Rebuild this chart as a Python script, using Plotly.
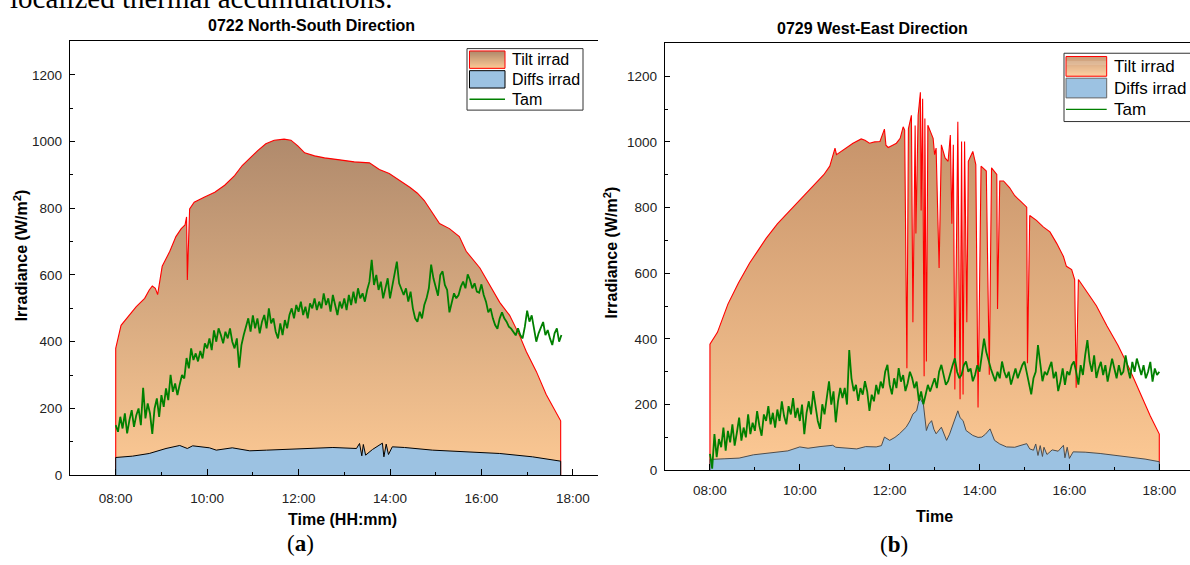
import plotly.graph_objects as go
import pandas as pd

W, H = 1190, 565
DAY = "2000-01-01 "


def px(x):
    return x / W


def py(y):
    return 1 - y / H


# ---------------- Panel (a): 0722 North-South ----------------
a_tilt_t = ["08:00", "08:00", "08:07", "08:18", "08:27", "08:38", "08:44", "08:48", "08:52", "08:55",
            "08:58", "09:01", "09:11", "09:19", "09:26", "09:31", "09:33", "09:34", "09:37", "09:43",
            "09:56", "10:10", "10:23", "10:36", "10:46", "10:56", "11:06", "11:17", "11:28", "11:41",
            "11:50", "11:59", "12:08", "12:21", "12:34", "12:54", "13:13", "13:33", "13:46", "13:59",
            "14:13", "14:26", "14:36", "14:45", "15:05", "15:18", "15:31", "15:40", "15:58", "16:08",
            "16:24", "16:37", "16:50", "16:59", "17:12", "17:25", "17:38", "17:44", "17:44"]
a_tilt_v = [0, 380, 449, 479, 505, 530, 555, 567, 560, 541,
            590, 626, 671, 715, 739, 750, 774, 585, 798, 818,
            833, 848, 869, 898, 928, 951, 972, 993, 1004, 1007,
            1004, 987, 966, 957, 951, 945, 939, 936, 916, 904,
            883, 863, 845, 823, 754, 739, 715, 671, 621, 582,
            518, 479, 419, 370, 311, 242, 188, 163, 0]

a_diff_t = ["08:00", "08:00", "08:22", "08:44", "09:06", "09:24", "09:34", "09:41", "10:03", "10:12",
            "10:33", "10:56", "11:18", "12:01", "12:45", "13:16", "13:20", "13:23", "13:25", "13:28",
            "13:37", "13:50", "13:52", "13:55", "13:58", "14:03", "14:19", "14:56", "15:40", "16:24",
            "17:07", "17:38", "17:44", "17:44"]
a_diff_v = [0, 53, 57, 65, 80, 89, 80, 88, 82, 75,
            82, 73, 75, 78, 83, 80, 95, 58, 92, 60,
            77, 96, 55, 93, 62, 85, 83, 75, 70, 65,
            55, 45, 42, 0]

# Tam, every 3 minutes from 08:00 to 17:45
a_tam_v = [150, 130, 175, 140, 185, 125, 165, 195, 145, 180,
           200, 150, 262, 170, 215, 185, 124, 200, 230, 175,
           240, 205, 260, 225, 301, 250, 275, 240, 272, 300,
           290, 351, 320, 380, 345, 365, 341, 372, 350, 395,
           380, 410, 375, 434, 400, 440, 420, 395, 430, 410,
           440, 400, 380, 410, 322, 390, 420, 445, 470, 430,
           479, 440, 470, 425, 460, 480, 440, 500, 455, 470,
           430, 410, 455, 420, 465, 440, 480, 500, 470, 510,
           490, 520, 480, 505, 470, 515, 500, 530, 495, 520,
           500, 545, 510, 530, 490, 540, 505, 480, 520, 500,
           530, 495, 540, 510, 550, 515, 560, 530, 545, 520,
           555, 580, 645, 570, 600, 555, 580, 530, 560, 590,
           530, 570, 600, 640, 575, 560, 540, 560, 520, 550,
           500, 470, 460, 490, 470, 510, 530, 560, 631, 590,
           560, 538, 600, 611, 570, 555, 488, 520, 545, 530,
           540, 565, 580, 560, 602, 585, 560, 575, 550, 547,
           572, 540, 520, 488, 500, 470, 450, 439, 470, 488,
           470, 460, 445, 439, 430, 419, 440, 420, 410, 445,
           493, 460, 479, 440, 400, 425, 440, 459, 420, 435,
           410, 390, 425, 440, 400, 420]

# ---------------- Panel (b): 0729 West-East ----------------
b_tilt_t = ["08:00", "08:00", "08:10", "08:24", "08:38", "08:53", "09:05", "09:15", "09:30", "09:47",
            "09:55", "10:09", "10:15", "10:22", "10:32", "10:40", "10:47", "10:49", "10:55", "11:02",
            "11:11", "11:22", "11:27", "11:33", "11:40", "11:47", "11:53", "11:55", "11:58", "12:04",
            "12:09", "12:14", "12:18", "12:20", "12:23", "12:25", "12:29", "12:31", "12:34", "12:35",
            "12:38", "12:41", "12:42", "12:44", "12:46", "12:47", "12:49", "12:51", "12:53", "12:58",
            "13:00", "13:02", "13:06", "13:09", "13:14", "13:18", "13:21", "13:23", "13:25", "13:27",
            "13:31", "13:34", "13:36", "13:38", "13:40", "13:43", "13:45", "13:49", "13:51", "13:55",
            "13:58", "14:02", "14:09", "14:13", "14:16", "14:23", "14:24", "14:27", "14:32", "14:40",
            "14:47", "14:54", "15:03", "15:04", "15:07", "15:16", "15:25", "15:34", "15:43", "15:52",
            "15:56", "16:03", "16:07", "16:09", "16:12", "16:18", "16:27", "16:36", "16:50", "17:05",
            "17:20", "17:35", "17:48", "18:00", "18:00"]
b_tilt_v = [0, 384, 420, 506, 570, 631, 672, 706, 750, 791,
            812, 846, 858, 876, 900, 926, 981, 961, 970, 981,
            996, 1009, 1005, 996, 1000, 1001, 1039, 990, 983, 990,
            996, 1011, 1046, 1036, 311, 1040, 1081, 451, 1050, 721,
            1081, 1151, 791, 1131, 286, 1071, 331, 1051, 1041, 1011,
            961, 981, 616, 991, 951, 941, 1021, 751, 991, 246,
            1061, 216, 1001, 231, 1001, 451, 941, 961, 971, 931,
            191, 926, 911, 291, 921, 901, 491, 881, 881, 861,
            836, 821, 801, 326, 776, 761, 741, 726, 691, 651,
            621, 611, 581, 251, 581, 561, 531, 501, 440, 380,
            310, 230, 165, 110, 0]

b_diff_t = ["08:00", "08:00", "08:20", "08:39", "08:58", "09:20", "09:44", "10:00", "10:11", "10:27",
            "10:44", "10:48", "11:07", "11:16", "11:28", "11:42", "11:49", "11:53", "12:00", "12:07",
            "12:13", "12:22", "12:27", "12:31", "12:36", "12:40", "12:45", "12:49", "12:52", "12:56",
            "12:59", "13:02", "13:09", "13:16", "13:20", "13:25", "13:31", "13:34", "13:38", "13:42",
            "13:51", "13:58", "14:03", "14:08", "14:14", "14:20", "14:27", "14:36", "14:47", "14:54",
            "15:03", "15:07", "15:12", "15:15", "15:18", "15:21", "15:24", "15:26", "15:30", "15:37",
            "15:45", "15:52", "15:54", "15:57", "16:00", "16:05", "16:21", "16:41", "17:01", "17:24",
            "17:41", "18:00", "18:00"]
b_diff_v = [0, 33, 35, 37, 47, 52, 59, 71, 67, 72,
            76, 70, 66, 65, 72, 71, 75, 101, 91, 100,
            111, 131, 150, 171, 181, 221, 201, 121, 140, 151,
            125, 111, 131, 91, 110, 141, 181, 160, 151, 121,
            106, 100, 101, 110, 126, 91, 80, 71, 70, 75,
            81, 65, 61, 80, 45, 75, 42, 70, 48, 62,
            58, 76, 38, 70, 36, 56, 55, 51, 46, 39,
            34, 26, 0]

# Tam, every 3 minutes from 08:00 to 18:00
b_tam_v = [50, 5, 110, 40, 95, 70, 130, 60, 120, 85,
           140, 75, 115, 160, 90, 130, 100, 170, 110, 145,
           120, 180, 135, 105, 170, 150, 195, 140, 175, 130,
           185, 150, 210, 165, 140, 195, 170, 220, 160, 190,
           150, 200, 110, 175, 210, 170, 241, 190, 150, 126,
           201, 170, 230, 271, 200, 240, 146, 210, 251, 220,
           251, 200, 366, 280, 241, 260, 211, 250, 230, 271,
           240, 181, 230, 210, 260, 231, 270, 250, 300, 321,
           260, 231, 280, 250, 311, 270, 290, 241, 265, 300,
           281, 250, 270, 211, 240, 201, 230, 260, 240, 261,
           280, 250, 300, 321, 290, 260, 271, 300, 320, 341,
           300, 280, 291, 320, 331, 300, 310, 271, 290, 320,
           300, 350, 401, 360, 331, 310, 290, 271, 300, 280,
           331, 300, 281, 300, 261, 290, 310, 280, 300, 320,
           331, 300, 260, 231, 280, 300, 381, 320, 271, 300,
           290, 311, 330, 280, 300, 241, 270, 310, 260, 301,
           290, 320, 331, 300, 261, 320, 290, 350, 396, 331,
           300, 350, 281, 310, 330, 290, 320, 270, 300, 340,
           310, 280, 320, 290, 300, 350, 310, 280, 330, 300,
           340, 310, 290, 320, 280, 300, 330, 270, 310, 290,
           300]

a_tam_t = pd.date_range(DAY + "08:00", DAY + "17:45", freq="3min")
b_tam_t = pd.date_range(DAY + "08:00", DAY + "18:00", freq="3min")

y_ticks = [0, 200, 400, 600, 800, 1000, 1200]
x_tick_labels = ["08:00", "10:00", "12:00", "14:00", "16:00", "18:00"]


def ts(lst):
    return [DAY + t for t in lst]


# ---------------- styles ----------------
RED = "#ff0000"
GREEN = "#008000"
BLUE_FILL = "#9cc2e2"
A_TOP, A_BOT = "#b08a6c", "#fdc994"
B_TOP, B_BOT = "#c08d66", "#fdc994"
SANS = "Liberation Sans, Arial, sans-serif"
SERIF = "Liberation Serif, Times New Roman, serif"

fig = go.Figure()

# panel a
fig.add_trace(go.Scatter(x=ts(a_tilt_t), y=a_tilt_v, mode="lines", fill="tozeroy",
                         line=dict(color=RED, width=1.1),
                         fillgradient=dict(type="vertical", colorscale=[[0, A_BOT], [1, A_TOP]]),
                         xaxis="x", yaxis="y", showlegend=False, hoverinfo="skip"))
fig.add_trace(go.Scatter(x=ts(a_diff_t), y=a_diff_v, mode="lines", fill="tozeroy",
                         fillcolor=BLUE_FILL, line=dict(color="black", width=1),
                         xaxis="x", yaxis="y", showlegend=False, hoverinfo="skip"))
fig.add_trace(go.Scatter(x=a_tam_t, y=a_tam_v, mode="lines",
                         line=dict(color=GREEN, width=1.8),
                         xaxis="x", yaxis="y", showlegend=False, hoverinfo="skip"))

# panel b
fig.add_trace(go.Scatter(x=ts(b_tilt_t), y=b_tilt_v, mode="lines", fill="tozeroy",
                         line=dict(color=RED, width=1.1),
                         fillgradient=dict(type="vertical", colorscale=[[0, B_BOT], [1, B_TOP]]),
                         xaxis="x2", yaxis="y2", showlegend=False, hoverinfo="skip"))
fig.add_trace(go.Scatter(x=ts(b_diff_t), y=b_diff_v, mode="lines", fill="tozeroy",
                         fillcolor=BLUE_FILL, line=dict(color="#4d4d4d", width=1),
                         xaxis="x2", yaxis="y2", showlegend=False, hoverinfo="skip"))
fig.add_trace(go.Scatter(x=b_tam_t, y=b_tam_v, mode="lines",
                         line=dict(color=GREEN, width=1.8),
                         xaxis="x2", yaxis="y2", showlegend=False, hoverinfo="skip"))

tickfont = dict(family=SANS, size=13.5, color="#222")


def xaxis_cfg(domain, rng, anchor, standoff):
    return dict(domain=domain, range=rng, type="date", anchor=anchor,
                tickmode="array", tickvals=ts(x_tick_labels), ticktext=x_tick_labels,
                ticks="inside", ticklen=6, tickwidth=1, tickcolor="black",
                minor=dict(dtick=3600000, tick0=DAY + "07:00", ticks="inside",
                           ticklen=3, tickcolor="black", tickwidth=1),
                showline=True, linecolor="black", linewidth=1.3, mirror=True,
                showgrid=False, zeroline=False, tickfont=tickfont,
                ticklabelstandoff=standoff)


def yaxis_cfg(domain, anchor):
    return dict(domain=domain, range=[0, 1300], anchor=anchor,
                tickmode="array", tickvals=y_ticks, ticktext=[str(v) for v in y_ticks],
                ticks="inside", ticklen=5, tickwidth=1, tickcolor="black",
                minor=dict(dtick=100, tick0=0, ticks="inside", ticklen=3,
                           tickcolor="black", tickwidth=1),
                showline=True, linecolor="black", linewidth=1.3, mirror=False,
                showgrid=False, zeroline=False, tickfont=tickfont,
                ticklabelstandoff=4)


fig.update_layout(
    width=W, height=H,
    margin=dict(l=0, r=0, t=0, b=0),
    paper_bgcolor="white", plot_bgcolor="white",
    xaxis=xaxis_cfg([px(70), px(598)], [DAY + "07:00", DAY + "18:33"], "y", 10),
    yaxis=yaxis_cfg([py(482), py(42)], "x"),
    xaxis2=xaxis_cfg([px(665), 1.0], [DAY + "07:00", DAY + "18:41"], "y2", 7),
    yaxis2=yaxis_cfg([py(477), py(44)], "x2"),
)

ann = []


def add_text(text, x, y, size, family=SANS, xanchor="center", angle=0, color="black"):
    ann.append(dict(text=text, x=px(x), y=py(y), xref="paper", yref="paper",
                    xanchor=xanchor, yanchor="middle", showarrow=False, textangle=angle,
                    font=dict(family=family, size=size, color=color)))


# cut-off paragraph text at very top
add_text("localized thermal accumulations.", 8, -2.3, 29, family=SERIF, xanchor="left")
# panel titles
add_text("<b>0722 North-South Direction</b>", 311.5, 26, 16)
add_text("<b>0729 West-East Direction</b>", 873, 29, 16)
# axis titles
add_text("<b>Irradiance (W/m<sup>2</sup>)</b>", 21, 259, 16, angle=-90)
add_text("<b>Irradiance (W/m<sup>2</sup>)</b>", 611, 256, 16, angle=-90)
add_text("<b>Time (HH:mm)</b>", 343, 527, 16)
add_text("<b>Time</b>", 934, 524, 16)
# sub-figure labels
add_text("(<b>a</b>)", 300, 551, 23, family=SERIF)
add_text("(<b>b</b>)", 894, 552, 23, family=SERIF)

shapes = []


def rect(x0, y0, x1, y1, fill=None, line_color=None, lw=1):
    shapes.append(dict(type="rect", xref="paper", yref="paper",
                       x0=px(x0), x1=px(x1), y0=py(y1), y1=py(y0),
                       fillcolor=fill if fill else "rgba(0,0,0,0)",
                       line=dict(color=line_color if line_color else "rgba(0,0,0,0)",
                                 width=lw if line_color else 0)))


def hex2rgb(h):
    h = h.lstrip("#")
    return tuple(int(h[i:i + 2], 16) for i in (0, 2, 4))


def gradient_swatch(x0, y0, x1, y1, c_top, c_bot):
    t = hex2rgb(c_top)
    b = hex2rgb(c_bot)
    n = int(round(y1 - y0))
    for i in range(n):
        f = i / max(n - 1, 1)
        c = tuple(int(round(t[k] + (b[k] - t[k]) * f)) for k in range(3))
        rect(x0, y0 + i, x1, y0 + i + 1.2, fill="rgb(%d,%d,%d)" % c)


def legend(box, sw_x, rows, text_x, size, top_c, diff_border):
    bx0, by0, bx1, by1 = box
    rect(bx0, by0, bx1, by1, fill="white", line_color="#333", lw=1)
    (ty0, ty1), (dy0, dy1), tam_y = rows
    gradient_swatch(sw_x[0], ty0, sw_x[1], ty1, top_c, A_BOT)
    rect(sw_x[0], ty0, sw_x[1], ty1, line_color=RED, lw=1)
    rect(sw_x[0], dy0, sw_x[1], dy1, fill=BLUE_FILL, line_color=diff_border, lw=1)
    shapes.append(dict(type="line", xref="paper", yref="paper",
                       x0=px(sw_x[0]), x1=px(sw_x[1]), y0=py(tam_y), y1=py(tam_y),
                       line=dict(color=GREEN, width=1.3)))
    add_text("Tilt irrad", text_x, (ty0 + ty1) / 2, size, xanchor="left")
    add_text("Diffs irrad", text_x, (dy0 + dy1) / 2, size, xanchor="left")
    add_text("Tam", text_x, tam_y, size, xanchor="left")


legend((467, 49.3, 583, 111.7), (469.5, 505), ((51.7, 69.3), (71.7, 89.3), 100.7), 510, 16,
       A_TOP, "black")
legend((1064, 54, 1196, 123.3), (1066, 1106.7), ((57.3, 77.3), (79.3, 99.3), 111), 1111.7, 17,
       B_TOP, "#666")

fig.update_layout(annotations=ann, shapes=shapes)

fig.write_html("out.html")
